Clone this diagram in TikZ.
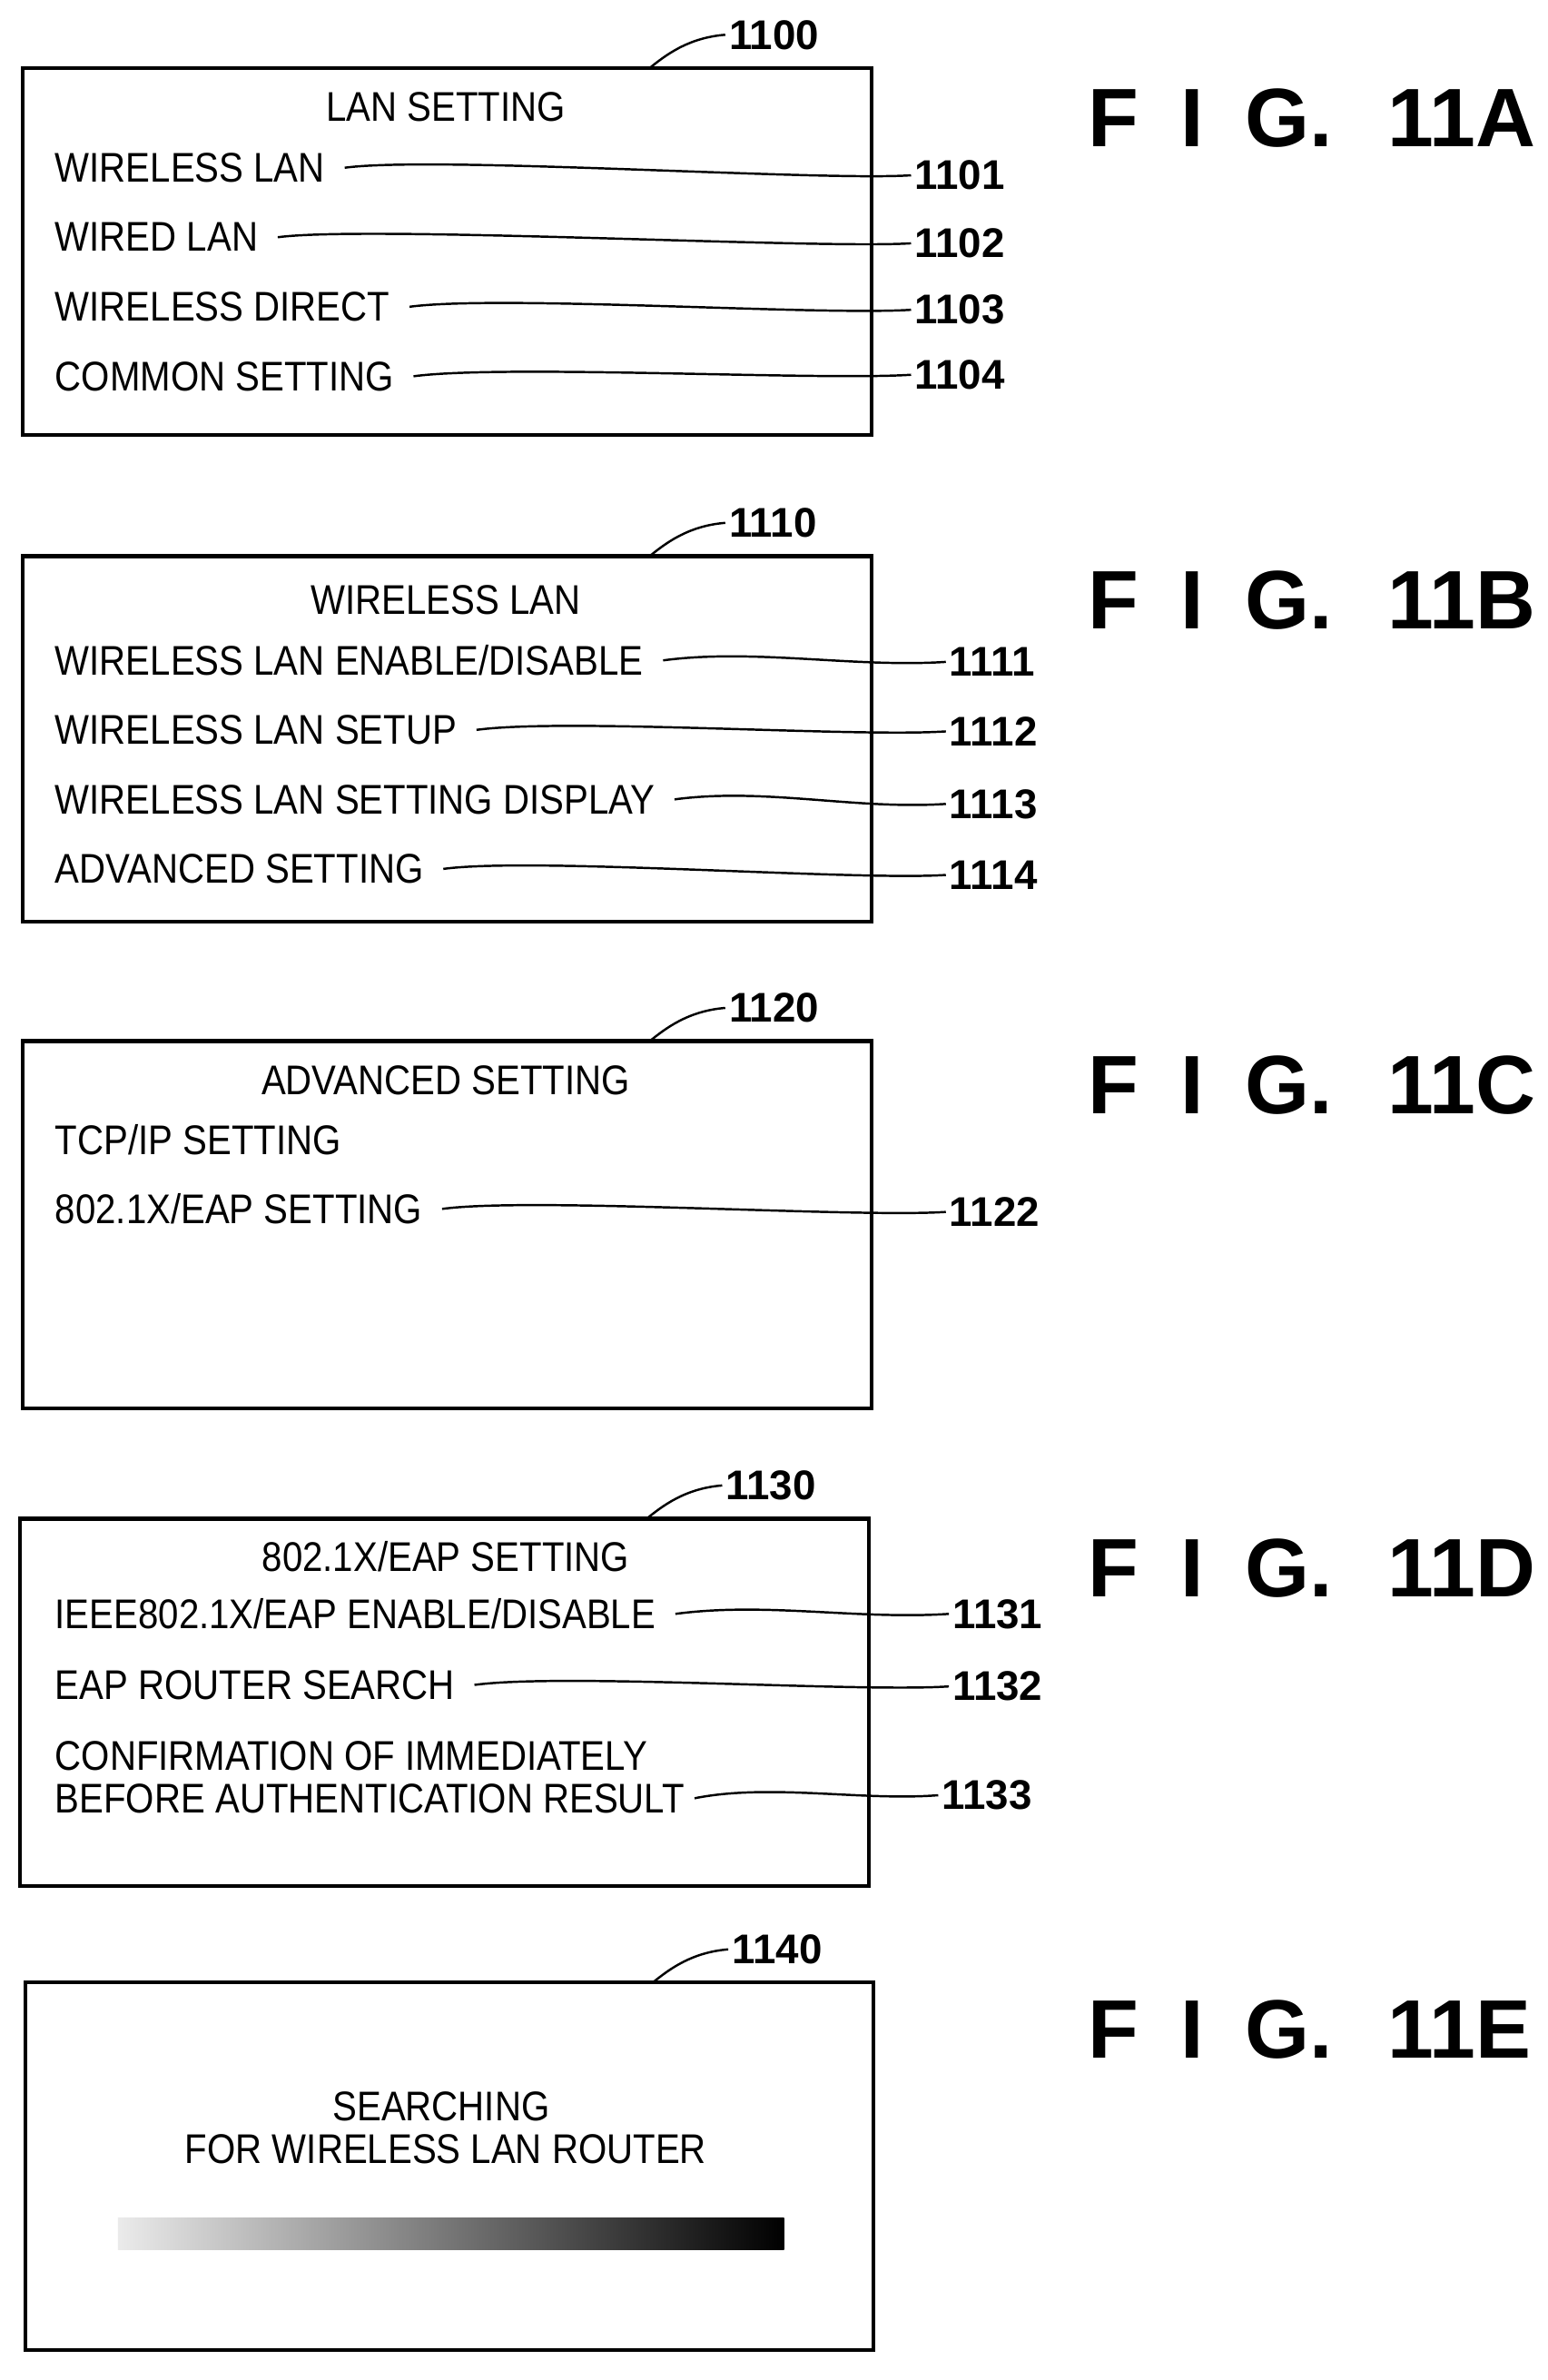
\documentclass[tikz,border=0pt]{standalone}
\usepackage{fontspec}
\setmainfont{Liberation Sans}
\newfontfamily\narrowfont[FakeStretch=0.88]{Liberation Sans}
\usetikzlibrary{positioning}
\begin{document}
\begin{tikzpicture}[x=0.01664cm,y=-0.01664cm,
  screen/.style={draw,line width=1.2pt},
  item/.style={anchor=west,inner sep=1pt,font=\narrowfont\fontsize{13}{14}\selectfont},
  title/.style={inner sep=1pt,font=\narrowfont\fontsize{13}{14}\selectfont},
  num/.style={anchor=west,inner sep=1pt,font=\bfseries\fontsize{13}{14}\selectfont},
  fig/.style={anchor=west,inner sep=0pt,font=\bfseries\fontsize{26}{28}\selectfont},
  lead/.style={line width=0.7pt}]
			\useasboundingbox (0,0) rectangle (1024,1575);
			
			% Screens
			\draw[screen] (15,45) rectangle (577,288);
			\draw[screen] (15,368) rectangle (577,610);
			\draw[screen] (15,689) rectangle (577,932);
			\draw[screen] (13,1005) rectangle (575,1248);
			\draw[screen] (17,1312) rectangle (578,1555);
			
			% Screen numbers
			\foreach \n/\x/\y in {1100/15/45,1110/15/368,1120/15/689,1130/13/1005,1140/17/1312}{
				\node[num] (s\n) at (\x+465,\y-22) {\n};
				\draw[lead] (\x+415,\y) .. controls (\x+425,\y-8) and (\x+440,\y-20) .. (s\n.west);
			}
			
			% Titles
			\node[title] (tA) at (295,71) {LAN SETTING};
			\node[title] (tB) at (295,397) {WIRELESS LAN};
			\node[title] (tC) at (295,715) {ADVANCED SETTING};
			\node[title] (tD) at (295,1030) {802.1X/EAP SETTING};
			
			% Items with leaders
			\foreach \t/\y/\n/\nx/\ny in {{WIRELESS LAN}/111/1101/603/116,{WIRED LAN}/157/1102/603/161,{WIRELESS DIRECT}/203/1103/603/205,{COMMON SETTING}/249/1104/603/248,
				{WIRELESS LAN ENABLE/DISABLE}/437/1111/626/438,{WIRELESS LAN SETUP}/483/1112/626/484,{WIRELESS LAN SETTING DISPLAY}/529/1113/626/532,{ADVANCED SETTING}/575/1114/626/579,
				{802.1X/EAP SETTING}/800/1122/626/802,
				{IEEE802.1X/EAP ENABLE/DISABLE}/1068/1131/628/1068,{EAP ROUTER SEARCH}/1115/1132/628/1116}{
				\node[item] (i\n) at (34,\y) {\t};
				\node[num] (n\n) at (\nx,\ny) {\n};
				\draw[lead] ([xshift=5pt]i\n.east) .. controls +(60,-8) and +(-60,4) .. (n\n.west);
			}
			\node[item] (iTCP) at (34,754) {TCP/IP SETTING};
			\node[item] (i1133a) at (34,1162) {CONFIRMATION OF IMMEDIATELY};
			\node[item] (i1133) at (34,1190) {BEFORE AUTHENTICATION RESULT};
			\node[num] (n1133) at (621,1188) {1133};
			\draw[lead] ([xshift=2pt]i1133.east) .. controls +(50,-10) and +(-50,4) .. (n1133.west);
			
			% Searching screen
			\node[title] (tE1) at (292,1394) {SEARCHING};
			\node[title] (tE2) at (295,1422) {FOR WIRELESS LAN ROUTER};
			\shade[left color=black!8,right color=black] (78,1468) rectangle (519,1489);
			
			% Figure labels
			\foreach \l/\y in {A/78,B/397,C/718,D/1038,E/1343}{
				\node[fig] (f\l) at (720,\y) {F\,\,\,I\,\,\,G.\,\,\,\,11\l};
			}
		\end{tikzpicture}
\end{document}
